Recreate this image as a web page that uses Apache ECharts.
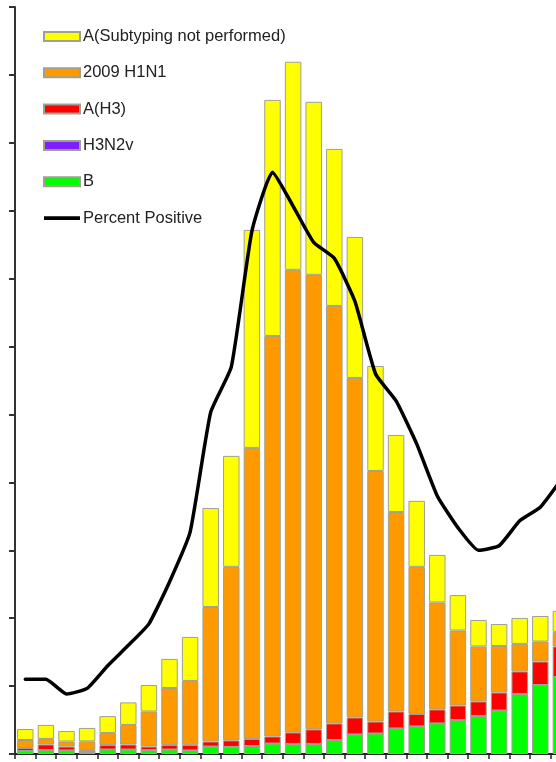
<!DOCTYPE html>
<html>
<head>
<meta charset="utf-8">
<script src="https://cdn.jsdelivr.net/npm/echarts@6/dist/echarts.min.js"></script>
<style>
html,body{margin:0;padding:0;background:#fff;overflow:hidden;width:556px;height:762px;}
#chart{width:572px;height:762px;}
</style>
</head>
<body>
<div id="chart"></div>
<script>
// Weeks (x categories, labels cropped in the reference)
const weeks = ['W1','W2','W3','W4','W5','W6','W7','W8','W9','W10','W11','W12','W13','W14','W15','W16','W17','W18','W19','W20','W21','W22','W23','W24','W25','W26','W27'];

// Number of positive specimens per type (stacked, bottom to top)
const fluB       = [22,29,26,15,33,33,29,33,26,55,52,59,77,74,74,103,144,151,188,203,225,250,280,320,442,508,567];
const h3n2v      = [0,0,0,0,0,0,0,0,0,0,0,0,0,0,0,0,0,0,0,0,0,0,0,0,0,0,0];
const aH3        = [22,41,29,15,33,37,26,33,41,37,48,52,52,85,107,122,125,88,125,92,103,107,107,133,166,173,225];
const h1n1_2009  = [59,41,37,63,88,144,258,420,471,990,1278,2143,2949,3406,3347,3074,2500,1845,1469,1083,788,552,405,342,203,147,107];
const aNotSub    = [81,103,77,99,125,166,195,214,324,729,817,1605,1738,1532,1274,1156,1038,773,567,486,350,261,195,162,191,188,155];

// Percent positive (right axis, not shown in crop)
const pctPositive = [3.3,3.3,2.65,2.9,3.9,4.8,5.75,7.6,9.8,15.1,17.1,23.1,25.7,24.2,22.6,21.9,20.0,16.8,15.6,13.7,11.4,10.0,9.0,9.2,10.3,10.9,12.1];

const names = ['A(Subtyping not performed)','2009 H1N1','A(H3)','H3N2v','B','Percent Positive'];

const chart = echarts.init(document.getElementById('chart'), null, {renderer:'canvas'});
const border = {borderColor:'#a0a090', borderWidth:1};
function barSeries(name, data, color){
  return {
    name:name, type:'bar', stack:'s', data:data,
    barCategoryGap:'20%',
    itemStyle:Object.assign({color:color}, border),
    emphasis:{disabled:true}
  };
}
chart.setOption({
  animation:false,
  backgroundColor:'#ffffff',
  legend:{
    data:names.map(n => n === 'Percent Positive' ? {name:n, icon:'path://M0,0h0.01v0.01h-0.01z M0,2.8h36v3.6h-36z M0,9h0.01v0.01h-0.01z'} : {name:n, icon:'rect'}),
    orient:'vertical',
    left:43, top:28, padding:0,
    itemWidth:36, itemHeight:9,
    itemGap:19.3,
    textStyle:{fontFamily:'Liberation Sans, Arial, sans-serif', fontSize:16.5, lineHeight:16, color:'#222', padding:[0,0,0,-2]},
    selectedMode:false
  },
  grid:{left:15, top:7, width:556.2, bottom:8, containLabel:false},
  xAxis:{
    type:'category', data:weeks, boundaryGap:true,
    axisLine:{lineStyle:{color:'#222', width:2}},
    axisTick:{show:true, interval:0, length:5, lineStyle:{color:'#222', width:1.5}},
    axisLabel:{show:false}
  },
  yAxis:[
    {type:'value', min:0, max:5500, interval:500,
     axisLine:{show:true, lineStyle:{color:'#333', width:2}},
     axisTick:{show:true, length:6, inside:false, lineStyle:{color:'#333', width:2}},
     axisLabel:{show:false}, splitLine:{show:false}},
    {type:'value', min:0, max:33, show:false, splitLine:{show:false}}
  ],
  series:[
    barSeries('B', fluB, '#00ff00'),
    barSeries('H3N2v', h3n2v, '#7f1fff'),
    barSeries('A(H3)', aH3, '#ff0000'),
    barSeries('2009 H1N1', h1n1_2009, '#ff9900'),
    barSeries('A(Subtyping not performed)', aNotSub, '#ffff00'),
    {name:'Percent Positive', type:'line', yAxisIndex:1, data:pctPositive,
     symbol:'none', smooth:0.15, z:10,
     lineStyle:{color:'#000', width:3.5, join:'round', cap:'round'},
     itemStyle:{color:'#000'}}
  ]
});
</script>
</body>
</html>
